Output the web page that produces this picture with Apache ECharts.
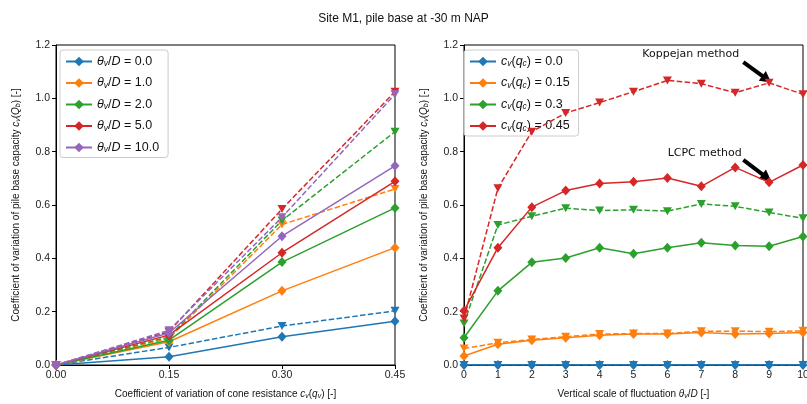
<!DOCTYPE html>
<html><head><meta charset="utf-8">
<script src="https://cdn.jsdelivr.net/npm/echarts@6/dist/echarts.min.js"></script>
<style>html,body{margin:0;padding:0;background:#fff}#c{width:807px;height:404px}</style>
</head><body><div id="c"></div>
<script>
// ---------- data ----------
var title = 'Site M1, pile base at -30 m NAP';
// left panel: x = cv(qc)
var leftX = [0, 0.15, 0.30, 0.45];
var leftLabels = ['0.0', '1.0', '2.0', '5.0', '10.0'];
var leftSolid = [
  [0, 0.031, 0.106, 0.164],
  [0, 0.087, 0.278, 0.440],
  [0, 0.093, 0.386, 0.589],
  [0, 0.112, 0.421, 0.689],
  [0, 0.120, 0.483, 0.747]
];
var leftDashed = [
  [0, 0.066, 0.146, 0.203],
  [0, 0.100, 0.527, 0.660],
  [0, 0.105, 0.542, 0.875],
  [0, 0.125, 0.585, 1.025],
  [0, 0.130, 0.554, 1.015]
];
// right panel: x = theta_v / D
var rightX = [0, 1, 2, 3, 4, 5, 6, 7, 8, 9, 10];
var rightLabels = ['0.0', '0.15', '0.3', '0.45'];
var rightSolid = [
  [0, 0, 0, 0, 0, 0, 0, 0, 0, 0, 0],
  [0.034, 0.078, 0.093, 0.102, 0.112, 0.116, 0.116, 0.122, 0.116, 0.118, 0.122],
  [0.102, 0.278, 0.385, 0.401, 0.440, 0.417, 0.440, 0.458, 0.448, 0.445, 0.482],
  [0.203, 0.440, 0.592, 0.654, 0.681, 0.687, 0.701, 0.670, 0.741, 0.685, 0.750]
];
var rightDashed = [
  [0, 0, 0, 0, 0, 0, 0, 0, 0, 0, 0],
  [0.062, 0.083, 0.096, 0.106, 0.116, 0.118, 0.118, 0.127, 0.127, 0.125, 0.128],
  [0.156, 0.525, 0.558, 0.588, 0.579, 0.582, 0.577, 0.604, 0.595, 0.572, 0.550],
  [0.174, 0.663, 0.875, 0.945, 0.984, 1.025, 1.067, 1.055, 1.021, 1.058, 1.015]
];
// annotations (data coordinates of right panel)
var annoText = ['Koppejan method', 'LCPC method'];
var annoTextPos = [[6.69, 1.166], [7.1, 0.795]];
var annoArrowFrom = [[8.24, 1.136], [8.24, 0.769]];
var annoArrowTo = [[8.93, 1.072], [8.93, 0.703]];

// ---------- styling ----------
var colors = ['#1f77b4', '#ff7f0e', '#2ca02c', '#d62728', '#9467bd'];
var axisFont = 'Liberation Sans, Arial, sans-serif';
var mathFont = 'DejaVu Sans, sans-serif';
var rich = {
  i: {fontStyle: 'italic', fontFamily: axisFont, fontSize: 10, color: '#111'},
  s: {fontStyle: 'italic', fontFamily: axisFont, fontSize: 7, color: '#111', padding: [5, 0, 0, 0]}
};
var legRich = {
  t: {fontFamily: axisFont, fontSize: 12.5, color: '#111'},
  i: {fontStyle: 'italic', fontFamily: axisFont, fontSize: 12.5, color: '#111'},
  s: {fontStyle: 'italic', fontFamily: axisFont, fontSize: 8.5, color: '#111', padding: [5, 0, 0, 0]}
};

function pairs(xs, ys) { return xs.map(function (x, k) { return [x, ys[k]]; }); }

var series = [];
leftLabels.forEach(function (lab, k) {
  series.push({
    name: 'L' + k, type: 'line', xAxisIndex: 0, yAxisIndex: 0,
    data: pairs(leftX, leftSolid[k]), symbol: 'diamond', symbolSize: [9, 10],
    itemStyle: {color: colors[k]}, lineStyle: {width: 1.5, color: colors[k]}, z: 2 + k
  });
  series.push({
    name: 'Ld' + k, type: 'line', xAxisIndex: 0, yAxisIndex: 0,
    data: pairs(leftX, leftDashed[k]), symbol: 'triangle', symbolRotate: 180, symbolSize: [9, 8],
    itemStyle: {color: colors[k]}, lineStyle: {width: 1.5, color: colors[k], type: [5.5, 2.4]}, z: 2 + k
  });
});
rightLabels.forEach(function (lab, k) {
  series.push({
    name: 'R' + k, type: 'line', xAxisIndex: 1, yAxisIndex: 1,
    data: pairs(rightX, rightSolid[k]), symbol: 'diamond', symbolSize: [9, 10],
    itemStyle: {color: colors[k]}, lineStyle: {width: 1.5, color: colors[k]}, z: 2 + k
  });
  series.push({
    name: 'Rd' + k, type: 'line', xAxisIndex: 1, yAxisIndex: 1,
    data: pairs(rightX, rightDashed[k]), symbol: 'triangle', symbolRotate: 180, symbolSize: [9, 8],
    itemStyle: {color: colors[k]}, lineStyle: {width: 1.5, color: colors[k], type: [5.5, 2.4]}, z: 2 + k
  });
});
// annotations series
series.push({
  name: 'anno', type: 'line', xAxisIndex: 1, yAxisIndex: 1, data: [], z: 20,
  markLine: {
    silent: true, symbol: ['none', 'triangle'], symbolSize: [12, 11],
    lineStyle: {color: '#000', width: 4, type: 'solid'}, label: {show: false},
    itemStyle: {color: '#000'},
    data: annoArrowFrom.map(function (p, k) { return [{coord: p}, {coord: annoArrowTo[k]}]; })
  },
  markPoint: {
    silent: true, symbol: 'circle', symbolSize: 0,
    label: {show: true, position: 'inside', color: '#111', fontFamily: mathFont, fontSize: 11,
      formatter: function (p) { return p.name; }},
    data: annoText.map(function (t, k) { return {name: t, coord: annoTextPos[k]}; })
  }
});

function yAxis(idx) {
  return {
    type: 'value', gridIndex: idx, min: 0, max: 1.2, interval: 0.2,
    name: 'Coefficient of variation of pile base capacity {i|c}{s|v}({i|Q}{s|b}) [-]',
    nameLocation: 'middle', nameGap: 34, nameRotate: 90,
    nameTextStyle: {fontFamily: axisFont, fontSize: 10, color: '#111', rich: rich},
    axisLine: {show: true, lineStyle: {color: '#000', width: 1}},
    axisTick: {show: true, length: 4, lineStyle: {color: '#000'}},
    axisLabel: {fontFamily: axisFont, fontSize: 10.5, color: '#222', margin: 6,
      formatter: function (v) { return v.toFixed(1); }},
    splitLine: {show: false}
  };
}

function legend(left, names, fmt) {
  return {
    left: left, top: 50, orient: 'vertical', itemWidth: 26, itemHeight: 12, itemGap: 8,
    padding: [5, 9, 3, 5], backgroundColor: 'rgba(255,255,255,0.8)', borderColor: '#ccc',
    borderWidth: 1, borderRadius: 3, data: names, formatter: fmt,
    textStyle: {rich: legRich, fontFamily: axisFont, fontSize: 12.5}
  };
}

var option = {
  animation: false,
  backgroundColor: '#fff',
  title: {text: title, left: 'center', top: 8, itemGap: 0,
    textStyle: {fontFamily: axisFont, fontSize: 12, fontWeight: 'normal', color: '#111'}},
  grid: [
    {left: 56, top: 45, width: 339, height: 320, show: true, borderColor: '#000', borderWidth: 1,
      containLabel: false, outerBoundsMode: 'none'},
    {left: 464, top: 45, width: 339, height: 320, show: true, borderColor: '#000', borderWidth: 1,
      containLabel: false, outerBoundsMode: 'none'}
  ],
  legend: [
    legend(60, leftLabels.map(function (l, k) { return 'L' + k; }),
      function (n) { var k = +n.slice(1); return '{i|θ}{s|v}{t|/}{i|D}{t| = ' + leftLabels[k] + '}'; }),
    legend(464, rightLabels.map(function (l, k) { return 'R' + k; }),
      function (n) { var k = +n.slice(1); return '{i|c}{s|v}{t|(}{i|q}{s|c}{t|) = ' + rightLabels[k] + '}'; })
  ],
  xAxis: [
    {
      type: 'value', gridIndex: 0, min: 0, max: 0.45, interval: 0.15,
      name: 'Coefficient of variation of cone resistance {i|c}{s|v}({i|q}{s|v}) [-]',
      nameLocation: 'middle', nameGap: 23,
      nameTextStyle: {fontFamily: axisFont, fontSize: 10, color: '#111', rich: rich},
      axisLine: {show: true, onZero: false, lineStyle: {color: '#000', width: 1}},
      axisTick: {show: true, length: 4, lineStyle: {color: '#000'}},
      axisLabel: {fontFamily: axisFont, fontSize: 10.5, color: '#222', margin: 5,
        formatter: function (v) { return v.toFixed(2); }},
      splitLine: {show: false}
    },
    {
      type: 'value', gridIndex: 1, min: 0, max: 10, interval: 1,
      name: 'Vertical scale of fluctuation {i|θ}{s|v}/{i|D} [-]',
      nameLocation: 'middle', nameGap: 23,
      nameTextStyle: {fontFamily: axisFont, fontSize: 10, color: '#111', rich: rich},
      axisLine: {show: true, onZero: false, lineStyle: {color: '#000', width: 1}},
      axisTick: {show: true, length: 4, lineStyle: {color: '#000'}},
      axisLabel: {fontFamily: axisFont, fontSize: 10.5, color: '#222', margin: 5},
      splitLine: {show: false}
    }
  ],
  yAxis: [yAxis(0), yAxis(1)],
  series: series
};
var chart = echarts.init(document.getElementById('c'), null, {renderer: 'canvas'});
chart.setOption(option);
</script></body></html>
